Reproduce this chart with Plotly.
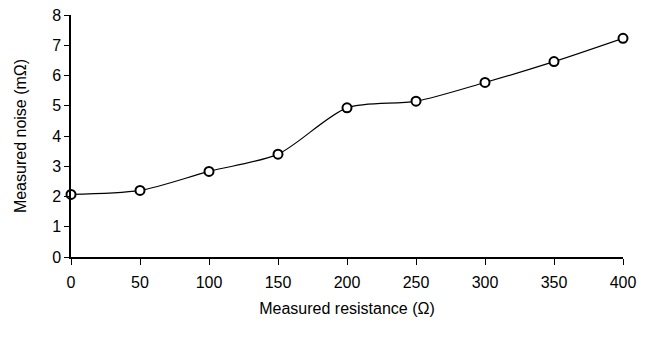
import plotly.graph_objects as go

resistance = [0, 50, 100, 150, 200, 250, 300, 350, 400]
noise = [2.07, 2.2, 2.83, 3.4, 4.93, 5.15, 5.77, 6.46, 7.23]
x_ticks = [0, 50, 100, 150, 200, 250, 300, 350, 400]
y_ticks = [0, 1, 2, 3, 4, 5, 6, 7, 8]

fig = go.Figure()
fig.add_trace(go.Scatter(
    x=resistance, y=noise, mode="lines+markers",
    line=dict(color="black", width=1.2, shape="spline", smoothing=0.8),
    marker=dict(symbol="circle", size=9, color="white",
                line=dict(color="black", width=2)),
    cliponaxis=False, showlegend=False,
))

font = dict(family="Liberation Sans, Arial, sans-serif", size=16, color="black")
fig.update_layout(
    width=650, height=337,
    margin=dict(l=71, r=27, t=15, b=80),
    paper_bgcolor="white", plot_bgcolor="white",
    font=font,
)
fig.update_xaxes(
    range=[0, 400], tickvals=x_ticks, showgrid=False, zeroline=False,
    showline=True, linecolor="black", linewidth=1.5,
    ticks="outside", ticklen=6, tickcolor="black", tickwidth=1.2,
    ticklabelstandoff=4, automargin=False,
    title=dict(text="Measured resistance (Ω)", standoff=13, font=dict(size=16)),
)
fig.update_yaxes(
    range=[0, 8], tickvals=y_ticks, showgrid=False, zeroline=False,
    showline=True, linecolor="black", linewidth=1.5,
    ticks="outside", ticklen=5, tickcolor="black", tickwidth=1.2,
    automargin=False,
    title=dict(text="Measured noise (mΩ)", standoff=22, font=dict(size=16)),
)
fig.write_html("out.html", config={"displayModeBar": False},
               post_script="document.body.style.margin='0px';")
